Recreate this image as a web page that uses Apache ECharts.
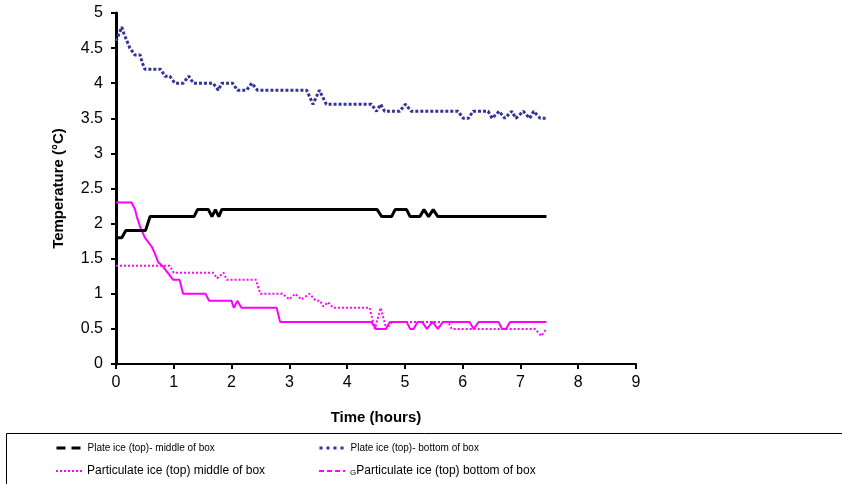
<!DOCTYPE html>
<html>
<head>
<meta charset="utf-8">
<script src="https://cdn.jsdelivr.net/npm/echarts@6/dist/echarts.min.js"></script>
<style>
  html, body { margin: 0; padding: 0; background: #fff; }
  #chart { width: 842px; height: 484px; }
</style>
</head>
<body>
<div id="chart"></div>
<script>
// readings: [hours, °C]
var plateMid = [[0,1.8],[0.1,1.8],[0.17,1.9],[0.51,1.9],[0.59,2.1],[1.35,2.1],[1.41,2.2],[1.6,2.2],[1.66,2.1],[1.72,2.2],[1.78,2.1],[1.83,2.2],
    [4.52,2.2],[4.6,2.1],[4.77,2.1],[4.83,2.2],[5.03,2.2],[5.09,2.1],[5.26,2.1],[5.33,2.2],[5.41,2.1],[5.49,2.2],[5.57,2.1],[7.45,2.1]];
var plateBot = [[0,4.6],[0.1,4.8],[0.14,4.7],[0.24,4.5],[0.33,4.4],[0.42,4.4],[0.45,4.3],[0.5,4.2],[0.77,4.2],[0.85,4.1],[0.93,4.1],
    [1.02,4.0],[1.16,4.0],[1.26,4.1],[1.34,4.0],[1.68,4.0],[1.77,3.9],[1.83,4.0],[2.02,4.0],[2.1,3.9],[2.26,3.9],[2.35,4.0],[2.45,3.9],
    [3.3,3.9],[3.41,3.7],[3.52,3.9],[3.64,3.7],[4.42,3.7],[4.51,3.6],[4.58,3.7],[4.65,3.6],[4.91,3.6],[5.01,3.7],[5.11,3.6],
    [5.92,3.6],[6.01,3.5],[6.1,3.5],[6.18,3.6],[6.44,3.6],[6.51,3.5],[6.63,3.6],[6.73,3.5],[6.85,3.6],[6.92,3.5],[7.05,3.6],
    [7.16,3.5],[7.23,3.6],[7.34,3.5],[7.45,3.5]];
var partMid = [[0,1.4],[0.93,1.4],[1.0,1.3],[1.68,1.3],[1.75,1.22],[1.86,1.3],[1.92,1.2],[2.42,1.2],[2.5,1.0],[2.88,1.0],
    [3.0,0.92],[3.1,1.0],[3.21,0.92],[3.35,1.0],[3.46,0.9],[3.53,0.9],[3.59,0.82],[3.67,0.88],[3.76,0.8],[4.39,0.8],
    [4.48,0.5],[4.58,0.8],[4.68,0.5],[4.78,0.6],[5.75,0.6],[5.81,0.5],[7.25,0.5],[7.36,0.4],[7.45,0.5]];
var partBot = [[0,2.3],[0.27,2.3],[0.33,2.2],[0.36,2.1],[0.42,1.95],[0.5,1.8],[0.62,1.67],[0.67,1.58],[0.73,1.45],[0.8,1.4],
    [0.99,1.2],[1.1,1.2],[1.16,1.0],[1.55,1.0],[1.61,0.9],[2.0,0.9],[2.04,0.8],[2.1,0.9],[2.17,0.8],[2.78,0.8],[2.84,0.6],
    [4.42,0.6],[4.5,0.5],[4.67,0.5],[4.74,0.6],[5.03,0.6],[5.09,0.5],[5.15,0.5],[5.22,0.6],[5.3,0.6],[5.38,0.5],[5.48,0.6],
    [5.57,0.5],[5.66,0.6],[6.12,0.6],[6.19,0.5],[6.22,0.5],[6.28,0.6],[6.62,0.6],[6.68,0.5],[6.75,0.5],[6.82,0.6],[7.45,0.6]];

var names = ['Plate ice (top)- middle of box', 'Plate ice (top)- bottom of box',
    'Particulate ice (top) middle of box', 'Particulate ice (top) bottom of box'];

var font = 'Liberation Sans, Arial, sans-serif';
var narrow = 'Liberation Sans Narrow, Liberation Sans, Arial, sans-serif';

var myChart = echarts.init(document.getElementById('chart'));

function oneLegend(name, left, top, size, lineStyle, formatter, rich) {
    return {
        data: [{ name: name, lineStyle: lineStyle, itemStyle: { opacity: 0 } }],
        left: left,
        top: top,
        padding: 0,
        itemWidth: 26,
        itemHeight: 10,
        formatter: formatter,
        textStyle: { fontFamily: narrow, fontSize: size, color: '#000', rich: rich }
    };
}

myChart.setOption({
    animation: false,
    backgroundColor: '#fff',
    grid: { left: 116, right: 206, top: 13, bottom: 120 },
    legend: [
        oneLegend(names[0], 55, 443, 10, { type: [9, 6], width: 3, color: '#000' }),
        oneLegend(names[1], 318, 443, 10, { type: [3, 4], width: 3, color: '#333399' }),
        oneLegend(names[2], 55, 465, 12, { type: [2, 2], width: 2, color: '#ff00ff' }),
        oneLegend(names[3], 318, 465, 12, { type: [5, 3], width: 2, color: '#ff00ff' },
            function (n) { return '{g|G}' + n; },
            { g: { fontSize: 8, verticalAlign: 'bottom', fontFamily: narrow, color: '#000', padding: [4, 0, 0, 0] } })
    ],
    graphic: [{
        type: 'rect',
        shape: { x: 6.5, y: 433.5, width: 900, height: 100 },
        style: { fill: 'none', stroke: '#000', lineWidth: 1 },
        silent: true
    }],
    xAxis: {
        type: 'value',
        min: 0,
        max: 9,
        interval: 1,
        name: 'Time (hours)',
        nameLocation: 'middle',
        nameGap: 46,
        nameTextStyle: { fontFamily: font, fontSize: 15, fontWeight: 'bold', color: '#000' },
        axisLine: { lineStyle: { color: '#000', width: 2 } },
        axisTick: { lineStyle: { color: '#000', width: 2 }, length: 5 },
        axisLabel: { fontFamily: font, fontSize: 16, color: '#000', margin: 11 },
        splitLine: { show: false }
    },
    yAxis: {
        type: 'value',
        min: 0,
        max: 5,
        interval: 0.5,
        name: 'Temperature (°C)',
        nameLocation: 'middle',
        nameGap: 50,
        nameTextStyle: { fontFamily: font, fontSize: 15, fontWeight: 'bold', color: '#000' },
        axisLine: { show: true, lineStyle: { color: '#000', width: 3 } },
        axisTick: { show: true, lineStyle: { color: '#000', width: 2 }, length: 5 },
        axisLabel: { fontFamily: font, fontSize: 16, color: '#000', margin: 13 },
        splitLine: { show: false }
    },
    series: [
        { name: names[0], type: 'line', data: plateMid, symbol: 'none', z: 4,
          lineStyle: { color: '#000', width: 3 }, itemStyle: { color: '#000' } },
        { name: names[1], type: 'line', data: plateBot, symbol: 'none', z: 3,
          lineStyle: { color: '#333399', width: 3, type: [3, 2] }, itemStyle: { color: '#333399' } },
        { name: names[2], type: 'line', data: partMid, symbol: 'none', z: 2,
          lineStyle: { color: '#ff00ff', width: 2, type: [2, 2] }, itemStyle: { color: '#ff00ff' } },
        { name: names[3], type: 'line', data: partBot, symbol: 'none', z: 2,
          lineStyle: { color: '#ff00ff', width: 2 }, itemStyle: { color: '#ff00ff' } }
    ]
});
</script>
</body>
</html>
